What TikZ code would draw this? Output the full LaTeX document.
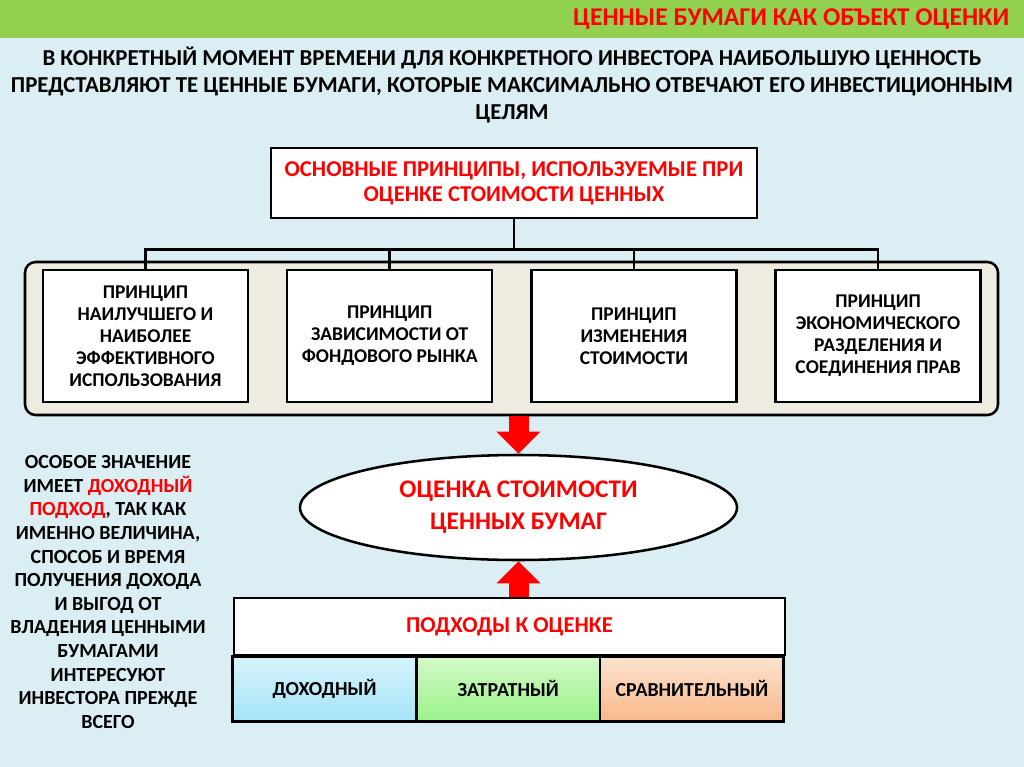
\documentclass[tikz,border=0pt]{standalone}
\usepackage{fontspec}
\setmainfont{Carlito}
\usepackage{xcolor}
\usepackage{tikz}
\usetikzlibrary{arrows.meta,positioning,shapes.geometric,fit}
\definecolor{SlideBlue}{HTML}{DBEEF4}
\definecolor{BarGreen}{HTML}{92D050}
\definecolor{PanelGray}{HTML}{EEECE1}
\definecolor{HeadRed}{HTML}{FF0000}
\definecolor{IncTop}{HTML}{D8F3FC}
\definecolor{IncBot}{HTML}{A3E3F7}
\definecolor{CostTop}{HTML}{D4F9C8}
\definecolor{CostBot}{HTML}{99F28A}
\definecolor{CmpTop}{HTML}{FCE3CF}
\definecolor{CmpBot}{HTML}{F8B88A}

\begin{document}
\begin{tikzpicture}[x=0.75pt, y=-0.75pt, node distance=27.5pt, every node/.style={font=\bfseries}, box/.style={draw,line width=1.9pt,fill=white,inner sep=0pt,align=center}, pbox/.style={box,minimum width=153.75pt,minimum height=99pt,font=\bfseries\fontsize{14.6}{16.5}\selectfont}, panel/.style={draw,line width=1.9pt,fill=PanelGray,rounded corners=8pt,inner sep=0pt}, link/.style={line width=1.9pt}, bigarr/.style={HeadRed,line width=15pt,-{Triangle[length=16.5pt,width=32pt]}}, cell/.style={draw,line width=1.9pt,inner sep=0pt,outer sep=0pt,minimum width=137.75pt,minimum height=48.75pt,font=\bfseries\fontsize{14.9}{17}\selectfont}]
\useasboundingbox (0,0) rectangle (1024,767);
\fill[SlideBlue] (0,0) rectangle (1024,767);
\fill[BarGreen] (0,0) rectangle (1024,38);
\node[anchor=east,text=HeadRed,font=\bfseries\fontsize{19.2}{22}\selectfont] (title) at (1014,19) {ЦЕННЫЕ БУМАГИ КАК ОБЪЕКТ ОЦЕНКИ};
\node[align=center,font=\bfseries\fontsize{17.1}{20.25}\selectfont] (intro) at (512,85) {В КОНКРЕТНЫЙ МОМЕНТ ВРЕМЕНИ ДЛЯ КОНКРЕТНОГО ИНВЕСТОРА НАИБОЛЬШУЮ ЦЕННОСТЬ\\ПРЕДСТАВЛЯЮТ ТЕ ЦЕННЫЕ БУМАГИ, КОТОРЫЕ МАКСИМАЛЬНО ОТВЕЧАЮТ ЕГО ИНВЕСТИЦИОННЫМ\\ЦЕЛЯМ};
\node[box,minimum width=364.5pt,minimum height=52.5pt,text=HeadRed,font=\bfseries\fontsize{17}{18.5}\selectfont] (basis) at (514,183) {ОСНОВНЫЕ ПРИНЦИПЫ, ИСПОЛЬЗУЕМЫЕ ПРИ\\ОЦЕНКЕ СТОИМОСТИ ЦЕННЫХ};
\node[panel,fit={(25,262) (998,415)}] (frame) {};
\node[pbox] (p1) at (145.5,336) {ПРИНЦИП\\НАИЛУЧШЕГО И\\НАИБОЛЕЕ\\ЭФФЕКТИВНОГО\\ИСПОЛЬЗОВАНИЯ};
\node[pbox,right=of p1] (p2) {ПРИНЦИП\\ЗАВИСИМОСТИ ОТ\\ФОНДОВОГО РЫНКА};
\node[pbox,right=of p2] (p3) {ПРИНЦИП\\ИЗМЕНЕНИЯ\\СТОИМОСТИ};
\node[pbox,right=of p3] (p4) {ПРИНЦИП\\ЭКОНОМИЧЕСКОГО\\РАЗДЕЛЕНИЯ И\\СОЕДИНЕНИЯ ПРАВ};
\draw[link] (basis.south) -- ++(0,30) coordinate (bus);
\foreach \p in {p1,p2,p3,p4}
  \draw[link] (bus) -| (\p.north);
\node[draw,ellipse,line width=1.9pt,fill=white,inner sep=0pt,minimum width=327.75pt,minimum height=78.75pt,align=center,text=HeadRed,font=\bfseries\fontsize{19}{24}\selectfont] (value) at (518.5,507.5) {ОЦЕНКА СТОИМОСТИ\\ЦЕННЫХ БУМАГ};
\node[box,minimum width=413.25pt,minimum height=42.75pt,text=HeadRed,font=\bfseries\fontsize{17}{19}\selectfont] (appr) at (509.5,626.5) {ПОДХОДЫ К ОЦЕНКЕ};
\node[cell,top color=IncTop,bottom color=IncBot,anchor=north west] (inc) at (appr.south west) {ДОХОДНЫЙ};
\node[cell,top color=CostTop,bottom color=CostBot,right=0pt of inc] (cost) {ЗАТРАТНЫЙ};
\node[cell,top color=CmpTop,bottom color=CmpBot,right=0pt of cost] (cmp) {СРАВНИТЕЛЬНЫЙ};
\draw[bigarr] (frame.south -| value.north) -- (value.north);
\draw[bigarr] (appr.north -| value.south) -- (value.south);
\node[align=center,font=\bfseries\fontsize{15}{17.7}\selectfont] (note) at (108,592) {ОСОБОЕ ЗНАЧЕНИЕ\\ИМЕЕТ \textcolor{HeadRed}{ДОХОДНЫЙ}\\\textcolor{HeadRed}{ПОДХОД}, ТАК КАК\\ИМЕННО ВЕЛИЧИНА,\\СПОСОБ И ВРЕМЯ\\ПОЛУЧЕНИЯ ДОХОДА\\И ВЫГОД ОТ\\ВЛАДЕНИЯ ЦЕННЫМИ\\БУМАГАМИ\\ИНТЕРЕСУЮТ\\ИНВЕСТОРА ПРЕЖДЕ\\ВСЕГО};
\end{tikzpicture}
\end{document}
